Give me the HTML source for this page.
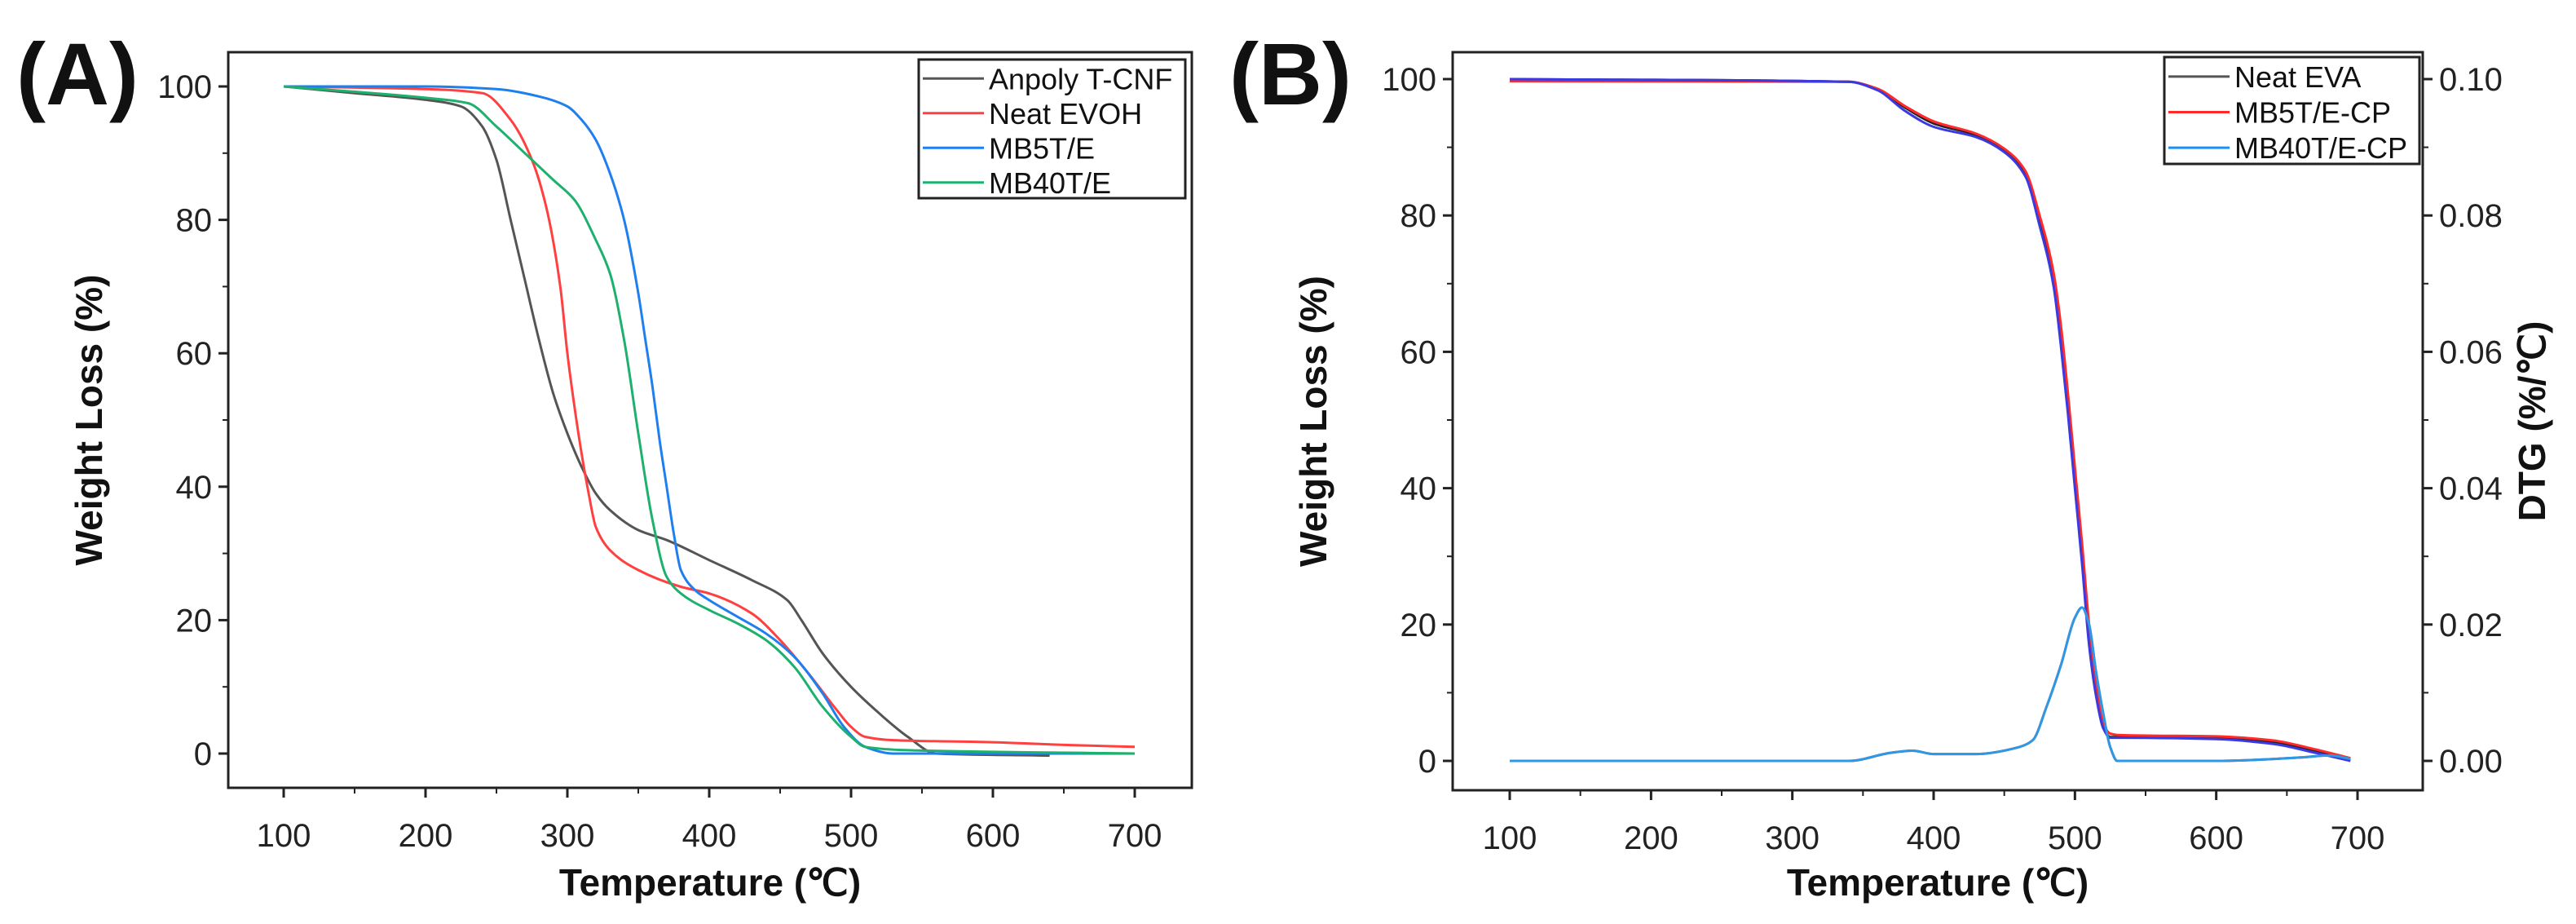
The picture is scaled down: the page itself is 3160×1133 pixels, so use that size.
<!DOCTYPE html>
<html><head><meta charset="utf-8"><style>
html,body{margin:0;padding:0;background:#fff;}
svg{display:block;font-family:"Liberation Sans",Arial,sans-serif;}
.tk{font-size:40px;fill:#222;}
.ti{font-size:46px;font-weight:bold;fill:#111;}
.lg{font-size:36px;fill:#111;}
</style></head><body>
<svg id="fig" width="3160" height="1133" viewBox="0 0 3160 1133" xmlns="http://www.w3.org/2000/svg">
<g id="pA"></g>
<g id="pB"></g>
</svg>
<script>
// Panel A data
const aAnpolyT = [100,150,200,225,240,250,260,270,280,290,300,310,320,330,350,370,400,430,455,465,480,500,520,540,560,640];
const aAnpolyV = [100,99,98,97,94,89,80,71,62,54,48,43,39,36.5,33.5,32,29,26,23,20,15,10,6,2.5,0,-0.3];
const aEvohT = [100,200,240,260,275,285,295,300,305,310,315,320,330,350,380,400,430,450,470,490,500,510,530,600,650,700];
const aEvohV = [100,99.6,99,95,89,82,70,60,52,45,39,34,30.5,27.5,25,24,21,17,12,6.5,4,2.5,2,1.7,1.3,1];
const aMb5T = [100,200,250,280,300,310,320,330,340,350,355,360,365,370,375,380,390,400,420,440,460,480,495,510,530,700];
const aMb5V = [100,100,99.6,98.5,97,95,92,87,80,69,62,55,47,40,33,27.5,24.5,23,20.5,18,14.5,9,4,1,0,0];
const aMb40T = [100,200,230,250,270,290,305,320,330,340,350,360,370,380,400,420,440,460,480,500,510,540,700];
const aMb40V = [100,98.3,97.5,94,90,86,83,77,72,62,48,35,26.5,24,21.5,19.5,17,13,7,2.5,1,0.5,0];
// Panel B data
const bWeightT = [100,340,360,380,400,430,450,465,475,485,490,495,500,505,510,515,520,525,530,600,640,670,695];
const bEvaV = [100,99.6,98.5,95.8,93.5,91.8,89.5,86,79,70,62,52,41,30,18,10,5,3.5,3.5,3.3,2.7,1.5,0.3];
const bMb5V = [99.7,99.6,98.6,96,93.8,92,89.8,86.5,80,71.5,64,54,43,32,20,11,5.5,4,3.8,3.6,3,1.7,0.4];
const bMb40V = [100,99.6,98.4,95.3,93,91.5,89.3,85.7,78.5,69.5,61,51,40,29,17,9.5,4.8,3.4,3.4,3.2,2.5,1.2,0];
const bDtgT = [100,340,370,385,400,430,460,470,480,490,500,505,510,515,520,525,530,600,660,680,695];
const bDtgV = [0,0,0.0012,0.0015,0.001,0.001,0.002,0.003,0.008,0.014,0.021,0.0225,0.02,0.013,0.007,0.002,0,0,0.0005,0.0008,0.0003];
const xTicks = [100,200,300,400,500,600,700];
const yTicks = [0,20,40,60,80,100];
const y2Ticks = [0,0.02,0.04,0.06,0.08,0.10];

const NS = "http://www.w3.org/2000/svg";
function mk(parent, tag, attrs){const e=document.createElementNS(NS,tag);for(const k in attrs)e.setAttribute(k,attrs[k]);parent.appendChild(e);return e;}
// monotone cubic (Fritsch-Carlson) in x
function smooth(pts){
  const n=pts.length, dx=[], m=[], t=[];
  for(let i=0;i<n-1;i++){dx[i]=pts[i+1][0]-pts[i][0]; m[i]=(pts[i+1][1]-pts[i][1])/dx[i];}
  t[0]=m[0]; t[n-1]=m[n-2];
  for(let i=1;i<n-1;i++){
    if(m[i-1]*m[i]<=0) t[i]=0;
    else { const w1=2*dx[i]+dx[i-1], w2=dx[i]+2*dx[i-1]; t[i]=(w1+w2)/(w1/m[i-1]+w2/m[i]); }
  }
  let d='M'+pts[0][0].toFixed(1)+','+pts[0][1].toFixed(1);
  for(let i=0;i<n-1;i++){
    const h=dx[i]/3;
    d+=' C'+(pts[i][0]+h).toFixed(1)+','+(pts[i][1]+t[i]*h).toFixed(1)+' '+(pts[i+1][0]-h).toFixed(1)+','+(pts[i+1][1]-t[i+1]*h).toFixed(1)+' '+pts[i+1][0].toFixed(1)+','+pts[i+1][1].toFixed(1);
  }
  return d;
}

function panel(g, cfg){
  const sx = v => cfg.x100 + (v-100)*(cfg.x700-cfg.x100)/600;
  const sy = v => cfg.y0 + v*(cfg.y100-cfg.y0)/100;
  const sy2 = v => cfg.y0 + v*(cfg.y100-cfg.y0)/0.1;
  const box = mk(g,'rect',{x:cfg.L,y:cfg.T,width:cfg.R-cfg.L,height:cfg.B-cfg.T,fill:'none',stroke:'#222','stroke-width':3});
  
  
  xTicks.forEach((v,i)=>{
    const t=mk(g,'line',{x1:sx(v),x2:sx(v),y1:cfg.B,y2:cfg.B+12,stroke:'#222','stroke-width':3});
    
    
    if(i<xTicks.length-1){const m=mk(g,'line',{x1:sx(v+50),x2:sx(v+50),y1:cfg.B,y2:cfg.B+7,stroke:'#222','stroke-width':2});
      
      }
    const l=mk(g,'text',{x:sx(v),y:cfg.B+72,'text-anchor':'middle',class:'tk'});l.textContent=v;
    
    
  });
  yTicks.forEach((v,i)=>{
    const t=mk(g,'line',{x1:cfg.L-12,x2:cfg.L,y1:sy(v),y2:sy(v),stroke:'#222','stroke-width':3});
    
    
    if(i<yTicks.length-1){const m=mk(g,'line',{x1:cfg.L-7,x2:cfg.L,y1:sy(v+10),y2:sy(v+10),stroke:'#222','stroke-width':2});
      
      }
    const l=mk(g,'text',{x:cfg.L-20,y:sy(v)+14,'text-anchor':'end',class:'tk'});l.textContent=v;
    
    
  });
  if(cfg.right){
    y2Ticks.forEach((v,i)=>{
      const t=mk(g,'line',{x1:cfg.R,x2:cfg.R+12,y1:sy2(v),y2:sy2(v),stroke:'#222','stroke-width':3});
      
      
      if(i<y2Ticks.length-1){const m=mk(g,'line',{x1:cfg.R,x2:cfg.R+7,y1:sy2(v+0.01),y2:sy2(v+0.01),stroke:'#222','stroke-width':2});
        
        }
      const l=mk(g,'text',{x:cfg.R+20,y:sy2(v)+14,'text-anchor':'start',class:'tk'});l.textContent=v.toFixed(2);
      
      
    });
    const t2=mk(g,'text',{x:0,y:0,'text-anchor':'middle',class:'ti',transform:`translate(${cfg.y2TitleX},${(cfg.T+cfg.B)/2}) rotate(-90)`});
    t2.textContent='DTG (%/℃)';
    
    
  }
  cfg.series.forEach(s=>{
    const f = s.dtg ? sy2 : sy;
    const d = smooth(s.t.map((t,i)=>[sx(t),f(s.v[i])]));
    const p=mk(g,'path',{d:d,fill:'none',stroke:s.c,'stroke-width':3,'stroke-linejoin':'round'});
    
    
  });
  const yt=mk(g,'text',{x:0,y:0,'text-anchor':'middle',class:'ti',transform:`translate(${cfg.yTitleX},${(cfg.T+cfg.B)/2}) rotate(-90)`});
  yt.textContent='Weight Loss (%)';
  
  
  const xt=mk(g,'text',{x:(cfg.L+cfg.R)/2,y:1098,'text-anchor':'middle',class:'ti'});
  xt.textContent='Temperature (℃)';
  
  
  const pl=mk(g,'text',{x:cfg.labX,y:128,class:'ti'});
  pl.setAttribute('style','font-size:108px');
  pl.textContent=cfg.label;
  
  
  const lg=mk(g,'g',{});
  
  
  mk(lg,'rect',{x:cfg.lgX,y:cfg.lgY,width:cfg.lgW,height:cfg.lgH,fill:'#fff',stroke:'#222','stroke-width':3});
  cfg.legend.forEach((e,i)=>{
    const yy=cfg.lgY+ (cfg.lgH/cfg.legend.length)*(i+0.5)+2;
    const ent=mk(lg,'g',{});
    
    
    mk(ent,'line',{x1:cfg.lgX+5,x2:cfg.lgX+80,y1:yy,y2:yy,stroke:e.c,'stroke-width':3});
    const t=mk(ent,'text',{x:cfg.lgX+86,y:yy+13,class:'lg'});t.textContent=e.n;
  });
}

panel(document.getElementById('pA'),{
  L:280,R:1462,T:64,B:966,x100:348,x700:1392,y0:924,y100:106,
  yTitleX:125,labX:20,label:'(A)',
  lgX:1127,lgY:73,lgW:327,lgH:170,
  legend:[{n:'Anpoly T-CNF',c:'#555'},{n:'Neat EVOH',c:'#ff4040'},{n:'MB5T/E',c:'#1f7fef'},{n:'MB40T/E',c:'#1db06e'}],
  series:[
    {name:'anpoly-tcnf-line',t:aAnpolyT,v:aAnpolyV,c:'#555'},
    {name:'neat-evoh-line',t:aEvohT,v:aEvohV,c:'#ff4040'},
    {name:'mb5te-line',t:aMb5T,v:aMb5V,c:'#1f7fef'},
    {name:'mb40te-line',t:aMb40T,v:aMb40V,c:'#1db06e'}]
});
panel(document.getElementById('pB'),{
  L:1782,R:2972,T:64,B:969,x100:1852,x700:2892,y0:933,y100:97,
  yTitleX:1627,labX:1508,label:'(B)',right:true,y2TitleX:3122,
  lgX:2655,lgY:70,lgW:313,lgH:131,
  legend:[{n:'Neat EVA',c:'#555'},{n:'MB5T/E-CP',c:'#ff2a2a'},{n:'MB40T/E-CP',c:'#1e8fef'}],
  series:[
    {name:'neat-eva-weight-line',t:bWeightT,v:bEvaV,c:'#222'},
    {name:'mb5te-cp-weight-line',t:bWeightT,v:bMb5V,c:'#ff2a2a'},
    {name:'mb40te-cp-weight-line',t:bWeightT,v:bMb40V,c:'#3a3ae0'},
    {name:'dtg-red-line',t:bDtgT,v:bDtgV,c:'#ff2a2a',dtg:true},
    {name:'dtg-blue-line',t:bDtgT,v:bDtgV,c:'#2a9ae8',dtg:true}]
});
</script>
</body></html>
